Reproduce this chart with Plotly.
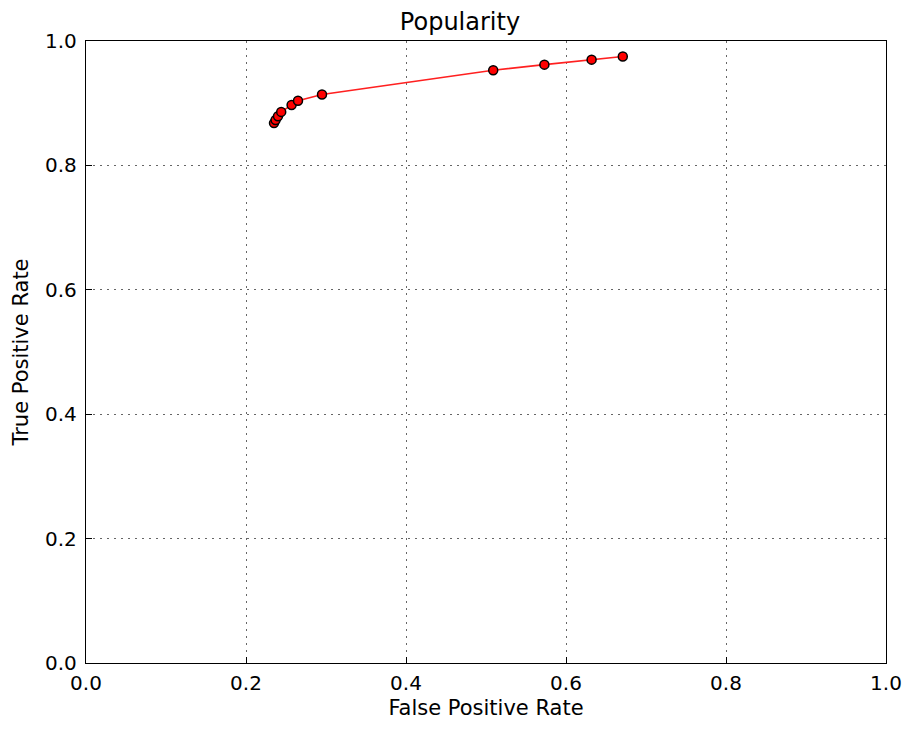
import plotly.graph_objects as go

fpr = [0.235, 0.237, 0.240, 0.244, 0.257, 0.265, 0.295, 0.509, 0.573, 0.632, 0.671]
tpr = [0.868, 0.873, 0.879, 0.886, 0.897, 0.904, 0.914, 0.953, 0.962, 0.970, 0.975]
tick_vals = [0.0, 0.2, 0.4, 0.6, 0.8, 1.0]
tick_text = ["0.0", "0.2", "0.4", "0.6", "0.8", "1.0"]

fig = go.Figure()
fig.add_trace(go.Scatter(
    x=fpr, y=tpr, mode="lines+markers",
    line=dict(color="#ff2020", width=1.6),
    marker=dict(color="red", size=9, line=dict(color="black", width=1.5)),
    showlegend=False, cliponaxis=False,
))

axis_common = dict(
    range=[0, 1], tickvals=tick_vals, ticktext=tick_text,
    showgrid=True, gridcolor="rgba(0,0,0,0.6)", griddash="2px,5px", gridwidth=1,
    showline=True, linecolor="black", linewidth=1.3, mirror=True,
    ticks="inside", ticklen=6, tickcolor="black",
    zeroline=False, tickfont=dict(size=20, color="black"),
    ticklabeloverflow="allow", automargin=False,
)

fig.update_layout(
    width=904, height=715,
    margin=dict(l=78, r=26, t=33, b=60),
    paper_bgcolor="white", plot_bgcolor="white",
    font=dict(family="DejaVu Sans", color="black"),
    title=dict(text="Popularity", x=0.5, xanchor="center", y=1 - 14 / 715, yanchor="middle",
               font=dict(size=24, color="black")),
    xaxis=dict(axis_common, ticklabelstandoff=2,
               title=dict(text="False Positive Rate", font=dict(size=21), standoff=6)),
    yaxis=dict(axis_common, ticklabelstandoff=4,
               title=dict(text="True Positive Rate", font=dict(size=21), standoff=10)),
)

fig.write_html("out.html")
